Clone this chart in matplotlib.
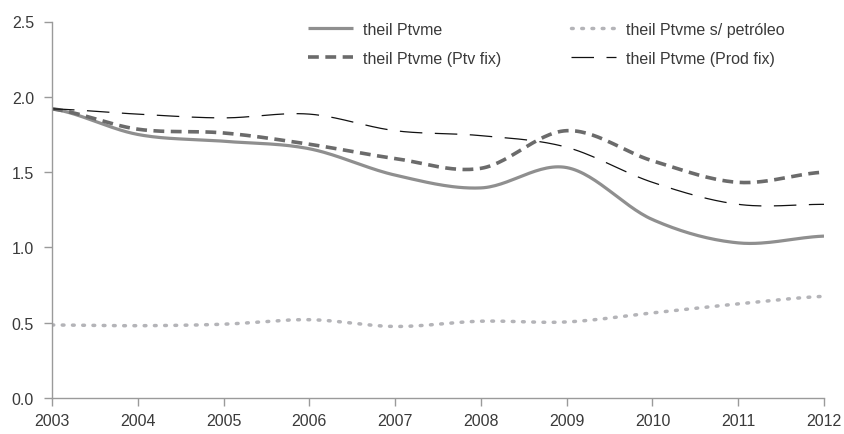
"""Theil index (Ptvme) series, 2003-2012, with Excel-style smoothed lines."""

import matplotlib

matplotlib.use("Agg")
import matplotlib.pyplot as plt
import numpy as np

plt.rcParams["font.family"] = ["Liberation Sans", "DejaVu Sans"]
plt.rcParams["font.size"] = 11.5

YEARS = [2003, 2004, 2005, 2006, 2007, 2008, 2009, 2010, 2011, 2012]
THEIL_PTVME = [1.92, 1.75, 1.705, 1.655, 1.48, 1.395, 1.53, 1.185, 1.03, 1.075]
THEIL_SEM_PETROLEO = [0.485, 0.48, 0.49, 0.52, 0.475, 0.51, 0.505, 0.565, 0.625, 0.675]
THEIL_PTV_FIX = [1.92, 1.785, 1.76, 1.685, 1.59, 1.525, 1.775, 1.575, 1.432, 1.50]
THEIL_PROD_FIX = [1.92, 1.885, 1.86, 1.885, 1.775, 1.742, 1.665, 1.432, 1.286, 1.286]

LABELS = [
    "theil Ptvme",
    "theil Ptvme (Ptv fix)",
    "theil Ptvme s/ petróleo",
    "theil Ptvme (Prod fix)",
]


def smooth(x, y, steps=30):
    """Catmull-Rom curve through the points, like Excel's smoothed line."""
    x = np.asarray(x, dtype=float)
    y = np.asarray(y, dtype=float)
    px = np.concatenate([[2 * x[0] - x[1]], x, [2 * x[-1] - x[-2]]])
    py = np.concatenate([[y[0]], y, [y[-1]]])
    out_x, out_y = [], []
    t = np.linspace(0, 1, steps, endpoint=False)
    for i in range(1, len(px) - 2):
        for arr, out in ((px, out_x), (py, out_y)):
            p0, p1, p2, p3 = arr[i - 1], arr[i], arr[i + 1], arr[i + 2]
            c1 = p1 + (p2 - p0) / 6
            c2 = p2 - (p3 - p1) / 6
            out.extend(
                (1 - t) ** 3 * p1
                + 3 * (1 - t) ** 2 * t * c1
                + 3 * (1 - t) * t ** 2 * c2
                + t ** 3 * p2
            )
    out_x.append(x[-1])
    out_y.append(y[-1])
    return np.array(out_x), np.array(out_y)


fig = plt.figure(figsize=(8.45, 4.35), dpi=100)
ax = fig.add_axes([52 / 845, 36 / 435, (824 - 52) / 845, (399 - 22.5) / 435])

styles = [
    (THEIL_PTVME, dict(color="#8f8f8f", lw=2.3, solid_capstyle="butt")),
    (THEIL_PTV_FIX, dict(color="#6b6b6b", lw=2.6, dashes=(3.0, 1.8))),
    (THEIL_SEM_PETROLEO, dict(color="#b4b4b8", lw=2.5, dashes=(0.5, 2.45),
                              dash_capstyle="round")),
    (THEIL_PROD_FIX, dict(color="#111111", lw=0.9, dashes=(18, 10))),
]
for (values, kw), label in zip(styles, LABELS):
    sx, sy = smooth(YEARS, values)
    ax.plot(sx, sy, label=label, **kw)

ax.set_xlim(2003, 2012)
ax.set_ylim(0, 2.5)
ax.set_xticks(YEARS)
ax.set_xticklabels([str(y) for y in YEARS])
ax.set_yticks([0.0, 0.5, 1.0, 1.5, 2.0, 2.5])
ax.set_yticklabels(["0.0", "0.5", "1.0", "1.5", "2.0", "2.5"])

for side in ("top", "right"):
    ax.spines[side].set_visible(False)
for side in ("left", "bottom"):
    ax.spines[side].set_color("#9a9a9a")
    ax.spines[side].set_linewidth(1.0)
ax.tick_params(axis="both", direction="out", length=6, width=1.0,
               color="#9a9a9a", labelcolor="#3a3a3a", labelsize=11.5)
ax.tick_params(axis="y", pad=7)
ax.tick_params(axis="x", pad=5)

ax.legend(
    loc="upper left",
    bbox_to_anchor=(308 / 845, 1 - 23 / 435),
    bbox_transform=fig.transFigure,
    ncol=2,
    frameon=False,
    borderpad=0,
    borderaxespad=0,
    handlelength=2.8,
    handletextpad=0.62,
    columnspacing=4.4,
    labelspacing=0.85,
    labelcolor="#3a3a3a",
)

fig.savefig("out.png", dpi=100)
